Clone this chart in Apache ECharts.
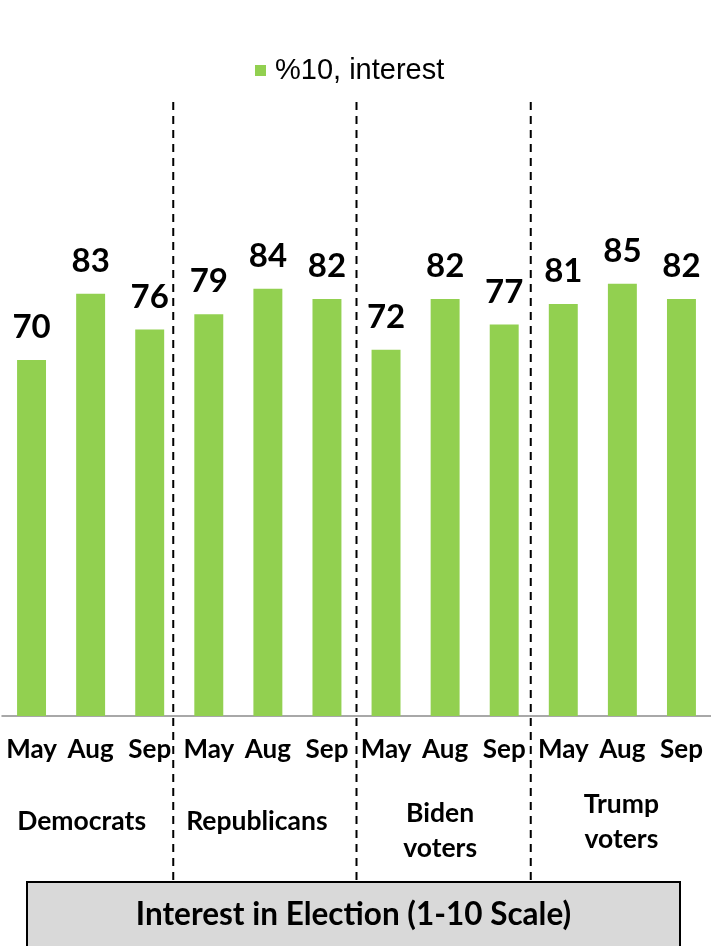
<!DOCTYPE html>
<html>
<head>
<meta charset="UTF-8">
<title>Interest in Election</title>
<script src="https://cdn.jsdelivr.net/npm/echarts@6/dist/echarts.min.js"></script>
<style>
body,html{ margin:0; padding:0; background:#fff; }
#chart{ width:711px; height:946px; }
</style>
</head>
<body>
<div id="chart"></div>
<script>
// data
var months = ['May', 'Aug', 'Sep', 'May', 'Aug', 'Sep', 'May', 'Aug', 'Sep', 'May', 'Aug', 'Sep'];
var interest = [70, 83, 76, 79, 84, 82, 72, 82, 77, 81, 85, 82];
var groups = ['Democrats', 'Republicans', 'Biden\nvoters', 'Trump\nvoters'];
var seriesName = '%10, interest';
var titleText = 'Interest in Election (1-10 Scale)';

// layout tweaks (pixels)
var groupDx = [-9, -11, -5, -1];
var groupY = [821, 821, 831, 822];
var sepDx = [-6, 0, -3];

var green = '#92D050';
var boldFont = 'Lato';

var chart = echarts.init(document.getElementById('chart'));

var option = {
    animation: false,
    legend: {
        data: [seriesName],
        left: 250,
        top: 51,
        icon: 'rect',
        itemWidth: 11,
        itemHeight: 11,
        textStyle: { fontFamily: 'Liberation Sans', fontSize: 29, color: '#000', padding: [0, 0, 0, 4] }
    },
    grid: { left: 2, top: 207.4, width: 715, height: 508.6 },
    xAxis: {
        type: 'category',
        data: months,
        axisLine: { lineStyle: { color: '#8c8c8c', width: 1.5 } },
        axisTick: { length: 8, lineStyle: { color: '#8c8c8c', width: 1.5 } },
        axisLabel: { fontFamily: boldFont, fontWeight: 'bold', fontSize: 26, color: '#000', margin: 21, interval: 0 }
    },
    yAxis: { type: 'value', min: 0, max: 100, show: false },
    series: [{
        name: seriesName,
        type: 'bar',
        data: interest,
        barCategoryGap: '51%',
        itemStyle: { color: green },
        label: {
            show: true,
            position: 'top',
            distance: 16,
            fontFamily: boldFont,
            fontWeight: 'bold',
            fontSize: 33,
            color: '#000'
        }
    }]
};
chart.setOption(option);

// separators, group names and the boxed title, placed from the axis scale
var els = [];
for (var s = 0; s < 3; s++) {
    var a = chart.convertToPixel({ xAxisIndex: 0 }, s * 3 + 2);
    var b = chart.convertToPixel({ xAxisIndex: 0 }, s * 3 + 3);
    var x = (a + b) / 2 + sepDx[s];
    els.push({
        type: 'line',
        shape: { x1: x, y1: 102, x2: x, y2: 881 },
        style: { stroke: '#000', lineWidth: 2, lineDash: [8, 6] },
        z: 10
    });
}
for (var g = 0; g < groups.length; g++) {
    var cx = chart.convertToPixel({ xAxisIndex: 0 }, g * 3 + 1) + groupDx[g];
    els.push({
        type: 'text',
        x: cx,
        y: groupY[g],
        style: {
            text: groups[g],
            fontFamily: boldFont,
            fontWeight: 'bold',
            fontSize: 26.5,
            lineHeight: 35,
            fill: '#000',
            align: 'center',
            verticalAlign: 'middle'
        }
    });
}
els.push({
    type: 'rect',
    shape: { x: 27, y: 882, width: 653, height: 70 },
    style: { fill: '#D9D9D9', stroke: '#000', lineWidth: 2 },
    z: 20
});
els.push({
    type: 'text',
    x: 353.5,
    y: 915,
    style: {
        text: titleText,
        fontFamily: boldFont,
        fontWeight: 'bold',
        fontSize: 31.5,
        fill: '#000',
        align: 'center',
        verticalAlign: 'middle'
    },
    z: 21
});
chart.setOption({ graphic: { elements: els } });
</script>
</body>
</html>
